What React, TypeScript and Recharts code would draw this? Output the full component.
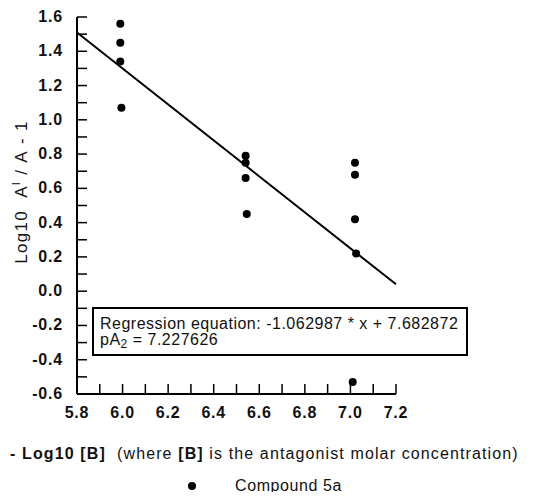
import { Scatter, ScatterChart, XAxis, YAxis } from "recharts";

// three antagonist concentrations, Compound 5a
const doseLow = [5.99, 5.99, 5.99, 5.995];
const respLow = [1.56, 1.45, 1.34, 1.07];
const doseMid = [6.54, 6.54, 6.54, 6.545];
const respMid = [0.79, 0.75, 0.66, 0.45];
const doseHigh = [7.02, 7.02, 7.02, 7.025, 7.01];
const respHigh = [0.75, 0.68, 0.42, 0.22, -0.53];

// fitted line end points as drawn
const fitX = [5.8, 7.2];
const fitY = [1.51, 0.04];

const xTicks = [5.8, 5.9, 6.0, 6.1, 6.2, 6.3, 6.4, 6.5, 6.6, 6.7, 6.8, 6.9, 7.0, 7.1, 7.2];
const yTicks = [-0.6, -0.5, -0.4, -0.3, -0.2, -0.1, 0, 0.1, 0.2, 0.3, 0.4, 0.5, 0.6, 0.7, 0.8, 0.9, 1.0, 1.1, 1.2, 1.3, 1.4, 1.5, 1.6];

const points = [
  ...doseLow.map((x, i) => ({ x, y: respLow[i] })),
  ...doseMid.map((x, i) => ({ x, y: respMid[i] })),
  ...doseHigh.map((x, i) => ({ x, y: respHigh[i] })),
];
const fitLine = fitX.map((x, i) => ({ x, y: fitY[i] }));

const FONT = "'Liberation Sans', Arial, sans-serif";

const isMajor = (v: number) => Math.round(v * 10) % 2 === 0;

function XTick({ x, y, payload }: any) {
  const v = payload.value as number;
  return (
    <g>
      {v > 5.85 && <line x1={x} x2={x} y1={y} y2={y - 10} stroke="#000" strokeWidth={1.5} />}
      {isMajor(v) && (
        <text x={x} y={y + 24} textAnchor="middle" fontFamily={FONT} fontWeight="bold" fontSize={16} letterSpacing={0.8} fill="#111">
          {v.toFixed(1)}
        </text>
      )}
    </g>
  );
}

function YTick({ x, y, payload }: any) {
  const v = payload.value as number;
  return (
    <g>
      {v > -0.55 && <line x1={x} x2={x + 10} y1={y} y2={y} stroke="#000" strokeWidth={1.5} />}
      {isMajor(v) && (
        <text x={x - 14} y={y + 5} textAnchor="end" fontFamily={FONT} fontWeight="bold" fontSize={16} letterSpacing={0.8} fill="#111">
          {v.toFixed(1)}
        </text>
      )}
    </g>
  );
}

const Dot = (props: any) => <circle cx={props.cx} cy={props.cy} r={4} fill="#000" />;

export default function App() {
  return (
    <div style={{ position: "relative", width: 519, height: 484, fontFamily: FONT }}>
      <ScatterChart width={519} height={484} margin={{ top: 9, right: 131, bottom: 68, left: 0 }}>
        <XAxis
          type="number"
          dataKey="x"
          domain={[5.8, 7.2]}
          ticks={xTicks}
          interval={0}
          height={30}
          tickSize={0}
          tickMargin={0}
          tickLine={false}
          axisLine={{ stroke: "#000", strokeWidth: 2 }}
          tick={<XTick />}
          label={{
            content: () => (
              <text x={2} y={451} fontFamily={FONT} fontSize={16} letterSpacing={1.12} fill="#111">
                <tspan fontWeight="bold">- Log10 [B]</tspan>
                <tspan>{"\u00a0\u00a0(where "}</tspan>
                <tspan fontWeight="bold">[B]</tspan>
                <tspan> is the antagonist molar concentration)</tspan>
              </text>
            ),
          }}
        />
        <YAxis
          type="number"
          dataKey="y"
          domain={[-0.6, 1.6]}
          ticks={yTicks}
          interval={0}
          width={69}
          tickSize={0}
          tickMargin={0}
          tickLine={false}
          axisLine={{ stroke: "#000", strokeWidth: 2 }}
          tick={<YTick />}
          label={{
            content: () => (
              <text x={19} y={184} transform="rotate(-90 19 184)" textAnchor="middle" fontFamily={FONT} fontSize={17} letterSpacing={1.3} fill="#111">
                Log10{"\u00a0\u00a0"}A
                <tspan dy={-7} fontSize={11}>I</tspan>
                <tspan dy={7}>{"\u00a0/\u00a0A\u00a0-\u00a01"}</tspan>
              </text>
            ),
          }}
        />
        <Scatter
          data={fitLine}
          line={{ stroke: "#000", strokeWidth: 2 }}
          shape={() => null}
          isAnimationActive={false}
        />
        <Scatter data={points} fill="#000" shape={<Dot />} isAnimationActive={false} />
      </ScatterChart>

      <div
        style={{
          position: "absolute",
          left: 84,
          top: 299,
          width: 376,
          height: 49,
          border: "2px solid #000",
          background: "#fff",
          fontSize: 16,
          letterSpacing: 0.5,
          lineHeight: "16px",
          color: "#111",
          padding: "7px 0 0 6px",
          boxSizing: "border-box",
        }}
      >
        <div>Regression equation: -1.062987 * x + 7.682872</div>
        <div>
          pA<sub style={{ fontSize: 12, verticalAlign: "-3px", lineHeight: 0 }}>2</sub> = 7.227626
        </div>
      </div>

      <div
        style={{
          position: "absolute",
          left: 180,
          top: 469,
          fontSize: 16,
          lineHeight: "18px",
          letterSpacing: 0.6,
          color: "#111",
          display: "flex",
          alignItems: "center",
          whiteSpace: "nowrap",
        }}
      >
        <span style={{ width: 8, height: 8, borderRadius: "50%", background: "#000", display: "inline-block", marginRight: 39 }} />
        Compound 5a
      </div>
    </div>
  );
}
